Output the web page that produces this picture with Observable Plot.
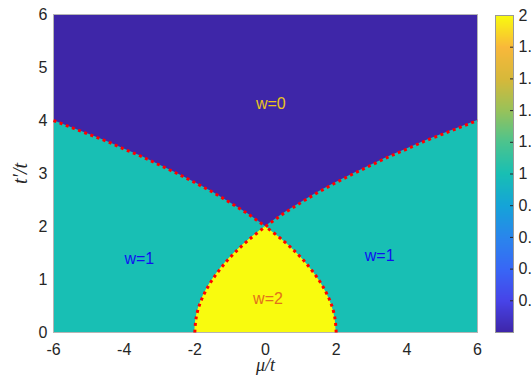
<!DOCTYPE html>
<html><head><meta charset="utf-8">
<script src="https://cdn.jsdelivr.net/npm/d3@7"></script>
<script src="https://cdn.jsdelivr.net/npm/@observablehq/plot@0.6"></script>
<style>
html,body{margin:0;padding:0;background:#fff;}
#wrap{position:relative;width:531px;height:375px;overflow:hidden;}
#wrap svg{position:absolute;top:0;}
</style></head><body><div id="wrap"></div>
<script>
// ticks
const xTicks = [-6, -4, -2, 0, 2, 4, 6];
const yTicks = [0, 1, 2, 3, 4, 5, 6];
const cbTicks = [0.2, 0.4, 0.6, 0.8, 1, 1.2, 1.4, 1.6, 1.8, 2];

// parula-like colormap
const cmapStops = [0, 0.2, 0.4, 0.6, 0.8, 1, 1.2, 1.4, 1.6, 1.8, 2];
const cmapColors = ["#3e26a8", "#4744e8", "#3867f6", "#2a86ec", "#15a4d8", "#18bfb4", "#4cc38e", "#98c25a", "#d7b83a", "#f9b83a", "#f9fb0e"];

// upper phase boundary (w=0 | w=1)
const upperMu = [-6, -5.5, -5, -4.5, -4, -3.5, -3, -2.5, -2, -1.5, -1, -0.5, 0, 0.5, 1, 1.5, 2, 2.5, 3, 3.5, 4, 4.5, 5, 5.5, 6];
const upperT  = [4.00, 3.87, 3.74, 3.61, 3.46, 3.32, 3.16, 3.00, 2.83, 2.65, 2.45, 2.24, 2.00, 2.24, 2.45, 2.65, 2.83, 3.00, 3.16, 3.32, 3.46, 3.61, 3.74, 3.87, 4.00];

// lower phase boundary (w=2 dome)
const lowerT       = [0, 0.25, 0.5, 0.75, 1, 1.25, 1.5, 1.75, 2];
const lowerMuLeft  = [-2, -1.97, -1.88, -1.72, -1.5, -1.22, -0.88, -0.47, 0];
const lowerMuRight = [2, 1.97, 1.88, 1.72, 1.5, 1.22, 0.88, 0.47, 0];

// phase labels
const labelText  = ["w=0", "w=1", "w=1", "w=2"];
const labelMu    = [0.15, -3.57, 3.23, 0.07];
const labelT     = [4.32, 1.38, 1.44, 0.64];
const labelColor = ["#ebc41c", "#1010f0", "#1010f0", "#e2711c"];

const cmap = d3.scaleLinear(cmapStops, cmapColors);
const tMax = yTicks[yTicks.length - 1];

const upper = upperMu.map((mu, i) => ({mu, t: upperT[i]}));
const upperLines = [
  ...upperMu.map((mu, i) => ({mu, t: upperT[i], b: "uL"})).filter(d => d.mu <= 0),
  ...upperMu.map((mu, i) => ({mu, t: upperT[i], b: "uR"})).filter(d => d.mu >= 0)
];
const lower = lowerT.map((t, i) => ({t, left: lowerMuLeft[i], right: lowerMuRight[i]}));
const lowerLines = [
  ...lowerT.map((t, i) => ({mu: lowerMuLeft[i], t, b: "lL"})),
  ...lowerT.map((t, i) => ({mu: lowerMuRight[i], t, b: "lR"}))
];
const labels = labelText.map((s, i) => ({s, mu: labelMu[i], t: labelT[i], c: labelColor[i]}));

const font = "'Liberation Sans', Arial, Helvetica, sans-serif";
const serif = "'Liberation Serif', 'DejaVu Serif', serif";
const dotted = {stroke: "#ff0000", strokeWidth: 3, strokeDasharray: "3 3.6", strokeLinecap: "butt"};

const main = Plot.plot({
  width: 531, height: 375,
  marginLeft: 53, marginRight: 54, marginTop: 14, marginBottom: 43,
  x: {domain: [-6, 6]},
  y: {domain: [0, 6]},
  color: {type: "identity"},
  style: {fontFamily: font, fontSize: "16px", color: "#262626", background: "transparent"},
  marks: [
    Plot.frame({fill: cmap(1)}),
    Plot.areaY(upper, {x: "mu", y1: "t", y2: tMax, fill: cmap(0)}),
    Plot.areaX(lower, {y: "t", x1: "left", x2: "right", fill: cmap(2), curve: "catmull-rom"}),
    Plot.frame({stroke: "#b5b5b5", strokeWidth: 1}),
    Plot.line(upperLines, {x: "mu", y: "t", z: "b", ...dotted}),
    Plot.line(lowerLines, {x: "mu", y: "t", z: "b", curve: "catmull-rom", ...dotted}),
    Plot.text(labels, {x: "mu", y: "t", text: "s", fill: "c", fontSize: 16, fontFamily: font}),
    Plot.axisX(xTicks, {tickSize: 0, tickPadding: 11, tickFormat: d => String(d), label: null, fontSize: 16}),
    Plot.axisY(yTicks, {tickSize: 0, tickPadding: 6, tickFormat: d => String(d), label: null, fontSize: 16}),
    Plot.text(["μ/t"], {frameAnchor: "bottom", lineAnchor: "middle", textAnchor: "middle", dy: 32.5, fontStyle: "italic", fontFamily: serif, fontSize: 18, fill: "#262626"}),
    Plot.text(["t′/t"], {frameAnchor: "left", lineAnchor: "middle", textAnchor: "middle", dx: -33, rotate: -90, fontStyle: "italic", fontFamily: serif, fontSize: 20, fill: "#262626"})
  ]
});
main.style.left = "0px";

const cb = Plot.plot({
  width: 36, height: 375,
  marginLeft: 0, marginRight: 18, marginTop: 15, marginBottom: 43,
  x: {domain: [0, 1], axis: null},
  y: {domain: [0, 2], axis: null},
  color: {type: "linear", domain: cmapStops, range: cmapColors},
  style: {fontFamily: font, fontSize: "16px", color: "#262626", background: "transparent"},
  marks: [
    Plot.raster({x1: 0, x2: 1, y1: 0, y2: 2, fill: (x, y) => y, width: 1, height: 317}),
    Plot.tickY(cbTicks, {insetLeft: 15, stroke: "#262626", strokeWidth: 1}),
    Plot.frame({stroke: "#999999", strokeWidth: 1}),
    Plot.axisY(cbTicks, {anchor: "right", tickSize: 0, tickPadding: 5, tickFormat: d => String(d), label: null, fontSize: 16})
  ]
});
cb.style.left = "495px";

const wrap = document.getElementById("wrap");
wrap.appendChild(main);
wrap.appendChild(cb);
</script>
</body></html>
